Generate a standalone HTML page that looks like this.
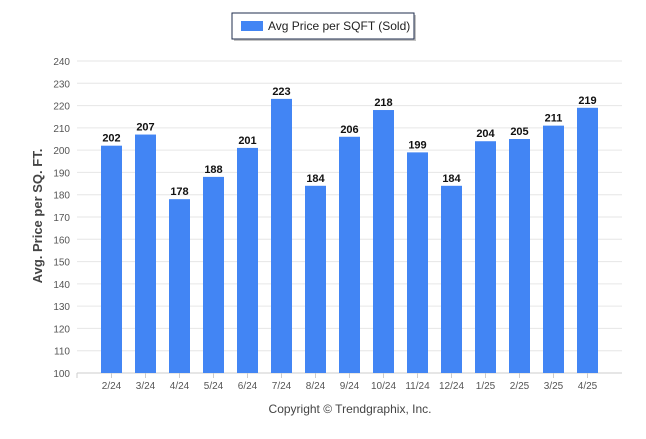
<!DOCTYPE html>
<html><head><meta charset="utf-8"><style>
body{margin:0;background:#fff;font-family:"Liberation Sans",Arial,sans-serif}
</style></head><body>
<svg width="646" height="434" xmlns="http://www.w3.org/2000/svg">
<g>
<rect x="234" y="15" width="182" height="26" fill="#888" opacity="0.5"/>
<rect x="232" y="13" width="182" height="26" fill="#fff" stroke="#1f2d4d" stroke-width="1"/>
<rect x="241" y="21" width="22" height="10" fill="#4285f4"/>
<text x="268" y="30" font-size="12" fill="#222">Avg Price per SQFT (Sold)</text>
</g>
<g id="grid"></g>
<g id="bars"></g>
<text transform="translate(42,216) rotate(-90)" text-anchor="middle" font-size="13" font-weight="bold" fill="#444">Avg. Price per SQ. FT.</text>
<text x="350" y="413" text-anchor="middle" font-size="12" fill="#444">Copyright © Trendgraphix, Inc.</text>
</svg>
<script>
const categories=["2/24","3/24","4/24","5/24","6/24","7/24","8/24","9/24","10/24","11/24","12/24","1/25","2/25","3/25","4/25"];
const values=[202,207,178,188,201,223,184,206,218,199,184,204,205,211,219];
const yTicks=[100,110,120,130,140,150,160,170,180,190,200,210,220,230,240];
const NS="http://www.w3.org/2000/svg";
const y=v=>373-(v-100)*(312/140);
const x=i=>111.5+34*i;
const grid=document.getElementById('grid'),bars=document.getElementById('bars');
function mk(t,a,p){const e=document.createElementNS(NS,t);for(const k in a)e.setAttribute(k,a[k]);p.appendChild(e);return e;}
yTicks.forEach(t=>{
 const l=mk('line',{x1:77,x2:622,y1:y(t),y2:y(t),stroke:'#e6e6e6'},grid);
 
 
 const tx=mk('text',{x:70,y:y(t)+4,'text-anchor':'end','font-size':10,fill:'#555'},grid);tx.textContent=t;
 
 
});
mk('line',{x1:77,x2:622,y1:373,y2:373,stroke:'#ccc'},grid);
mk('line',{x1:77,x2:77,y1:373,y2:378,stroke:'#ccc'},grid);
categories.forEach((c,i)=>{
 const v=values[i];
 const r=mk('rect',{x:x(i)-10.5,y:y(v),width:21,height:373-y(v),fill:'#4285f4'},bars);
 
 
 const lb=mk('text',{x:x(i),y:y(v)-4,'text-anchor':'middle','font-size':11,'font-weight':'bold',fill:'#111'},bars);lb.textContent=v;
 
 
 mk('line',{x1:x(i),x2:x(i),y1:373,y2:378,stroke:'#ccc'},grid);
 const xl=mk('text',{x:x(i),y:389,'text-anchor':'middle','font-size':10,fill:'#555'},bars);xl.textContent=c;
 
 
});
</script>
</body></html>
